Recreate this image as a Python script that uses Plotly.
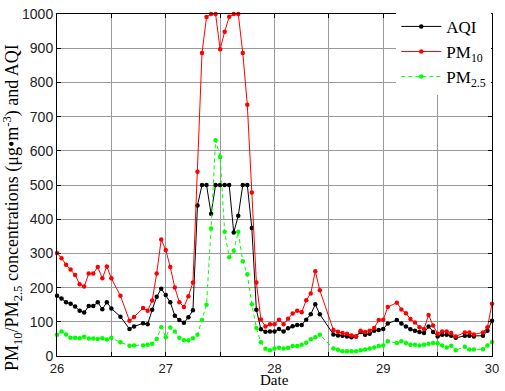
import plotly.graph_objects as go

# hours after 00:00 on day 26 (some hours missing)
hours = [0,1,2,3,4,5,6,7,8,9,10,11,12,14,16,17,
         19,20,21,22,23,24,25,26,27,28,29,30,
         31,32,33,34,35,36,37,38,39,40,41,42,43,
         44,45,46,47,48,49,50,51,52,53,54,55,56,57,58,
         61,62,63,64,65,66,67,68,69,70,71,72,73,
         75,76,77,78,79,80,81,82,83,84,85,86,87,88,
         90,91,92,94,95,96]

pm10 = [301,286,267,253,237,210,203,241,241,260,227,262,227,176,103,114,
        140,132,162,241,341,310,260,200,157,143,175,215,
        539,886,991,1000,1000,897,948,992,1000,1000,886,735,478,
        215,107,86,93,93,106,93,109,124,132,128,163,183,248,192,
        76,71,67,65,60,57,74,70,74,82,105,106,143,
        156,136,125,108,98,84,79,120,89,65,72,72,67,57,
        69,69,63,69,84,153]

aqi = [176,168,157,153,145,132,127,146,146,157,137,157,139,115,79,86,
       96,93,135,173,197,178,157,118,105,97,113,134,
       440,500,500,416,500,500,500,500,361,410,500,500,374,
       135,78,71,72,72,79,72,81,87,91,91,106,122,151,122,
       63,60,59,57,55,57,70,62,65,74,76,79,95,
       105,95,86,78,74,70,67,86,70,57,62,62,59,53,
       59,59,57,59,74,103]

pm25 = [62,72,63,53,53,52,56,51,51,50,52,48,53,40,30,31,
        31,33,36,50,84,55,83,72,53,46,46,52,
        62,105,150,373,631,582,363,289,308,363,277,239,151,
        82,40,21,17,22,24,22,24,29,29,33,39,49,55,62,
        22,18,14,14,14,14,17,19,22,25,29,31,43,
        38,43,38,33,33,31,33,36,38,37,31,25,30,17,
        27,19,19,20,31,41]

x_tick_vals = [26, 27, 28, 29, 30]
y_tick_vals = [0, 100, 200, 300, 400, 500, 600, 700, 800, 900, 1000]

x = [26 + h / 24 for h in hours]

fig = go.Figure()
fig.add_trace(go.Scatter(x=x, y=aqi, mode="lines+markers", name="AQI",
                         line=dict(color="black", width=1),
                         marker=dict(color="black", size=4.5), cliponaxis=False))
fig.add_trace(go.Scatter(x=x, y=pm10, mode="lines+markers", name="PM<sub>10</sub>",
                         line=dict(color="#ff0000", width=1),
                         marker=dict(color="#ff0000", size=4.5), cliponaxis=False))
fig.add_trace(go.Scatter(x=x, y=pm25, mode="lines+markers", name="PM<sub>2.5</sub>",
                         line=dict(color="#00ff00", width=1, dash="4px,3px"),
                         marker=dict(color="#00ff00", size=4.5), cliponaxis=False))

axis_common = dict(showline=True, linecolor="black", linewidth=1, mirror="ticks",
                   ticks="inside", ticklen=4, tickcolor="black",
                   showgrid=True, gridcolor="#9a9a9a", gridwidth=1, zeroline=False,
                   ticklabeloverflow="allow")

fig.update_xaxes(range=[26, 30], tickmode="array", tickvals=x_tick_vals,
                 tickfont=dict(family="Liberation Sans", size=13, color="#222"),
                 minor=dict(dtick=0.5, tick0=26, showgrid=True, gridcolor="#9a9a9a",
                            gridwidth=1, ticks="inside", ticklen=4, tickcolor="black"),
                 **axis_common)
fig.update_yaxes(range=[0, 1000], tickmode="array", tickvals=y_tick_vals,
                 tickfont=dict(family="Liberation Sans", size=14, color="#222"),
                 **axis_common)

fig.add_annotation(text="PM<sub>10</sub>/PM<sub>2.5</sub> concentrations (μg•m<sup>-3</sup>) and AQI",
                   xref="paper", yref="paper", x=-0.104, y=0.435, textangle=-90,
                   xanchor="center", yanchor="middle", showarrow=False,
                   font=dict(family="Liberation Serif", size=18, color="black"))
fig.add_annotation(text="Date", xref="paper", yref="paper", x=0.5, y=-0.1,
                   xanchor="center", yanchor="bottom", showarrow=False,
                   font=dict(family="Liberation Serif", size=15, color="black"))

fig.update_layout(width=505, height=391,
                  margin=dict(l=57, r=6, t=7, b=35),
                  paper_bgcolor="white", plot_bgcolor="white",
                  showlegend=True,
                  legend=dict(x=0.78, y=1.015, xanchor="left", yanchor="top",
                              bgcolor="white", borderwidth=0, itemwidth=40,
                              font=dict(family="Liberation Serif", size=17, color="black"),
                              tracegroupgap=0))

fig.write_html("out.html", config={"displayModeBar": False},
               post_script="document.body.style.margin='0px';")
